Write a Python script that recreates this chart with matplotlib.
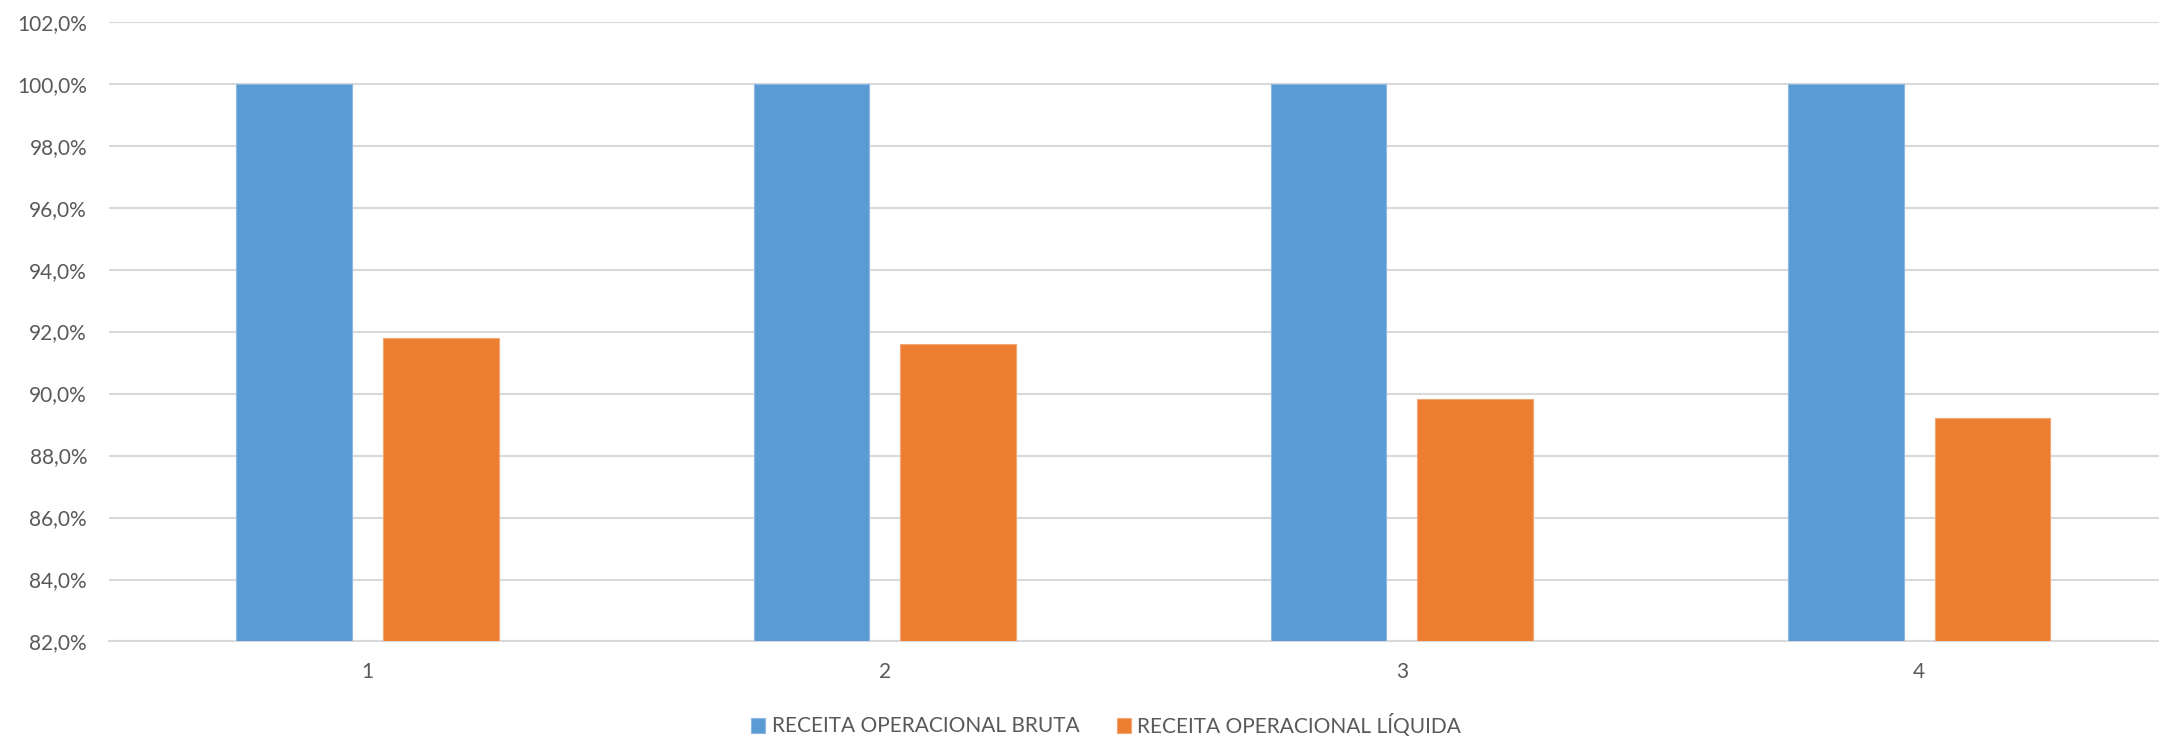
import matplotlib.pyplot as plt
import numpy as np
from matplotlib.ticker import FuncFormatter

# Dados
categorias = ['1', '2', '3', '4']
receita_bruta = [100.0, 100.0, 100.0, 100.0]
receita_liquida = [91.8, 91.6, 89.82, 89.2]
series = ['RECEITA OPERACIONAL BRUTA', 'RECEITA OPERACIONAL LÍQUIDA']
cores = ['#5B9BD5', '#ED7D31']

plt.rcParams['font.family'] = ['Lato', 'DejaVu Sans']

fig = plt.figure(figsize=(21.59, 7.37), dpi=100)
ax = fig.add_axes([0.0506, 0.1296, 0.958, 0.841])

x = np.arange(len(categorias))
largura = 0.224
desloc = 0.142
ax.bar(x - desloc, receita_bruta, largura, color=cores[0], label=series[0],
       edgecolor='#8DB8E3', linewidth=0.8, zorder=3)
ax.bar(x + desloc, receita_liquida, largura, color=cores[1], label=series[1],
       edgecolor='#F3A674', linewidth=0.8, zorder=3)

ax.set_xlim(-0.5, len(categorias) - 0.5)
ax.set_ylim(82, 102)
ax.set_yticks(np.arange(82, 102.1, 2))
ax.yaxis.set_major_formatter(FuncFormatter(lambda v, p: '{:.1f}%'.format(v).replace('.', ',')))
ax.set_xticks(x)
ax.set_xticklabels(categorias)

ax.grid(axis='y', color='#D9D9D9', linewidth=1.5, zorder=0)
ax.set_axisbelow(True)
for lado in ['top', 'right', 'left']:
    ax.spines[lado].set_visible(False)
ax.spines['bottom'].set_color('#D9D9D9')
ax.spines['bottom'].set_linewidth(1.5)
ax.tick_params(axis='y', length=0, pad=16, labelsize=15, labelcolor='#595959')
ax.tick_params(axis='x', length=0, pad=15, labelsize=15, labelcolor='#595959')

leg = fig.legend(loc='center', bbox_to_anchor=(1106 / 2159, 1 - 725 / 737), ncol=2,
                 frameon=False, fontsize=15, handlelength=0.7, handleheight=0.7,
                 handletextpad=0.3, columnspacing=1.8)
for t in leg.get_texts():
    t.set_color('#595959')

fig.savefig('out.png', dpi=100)
